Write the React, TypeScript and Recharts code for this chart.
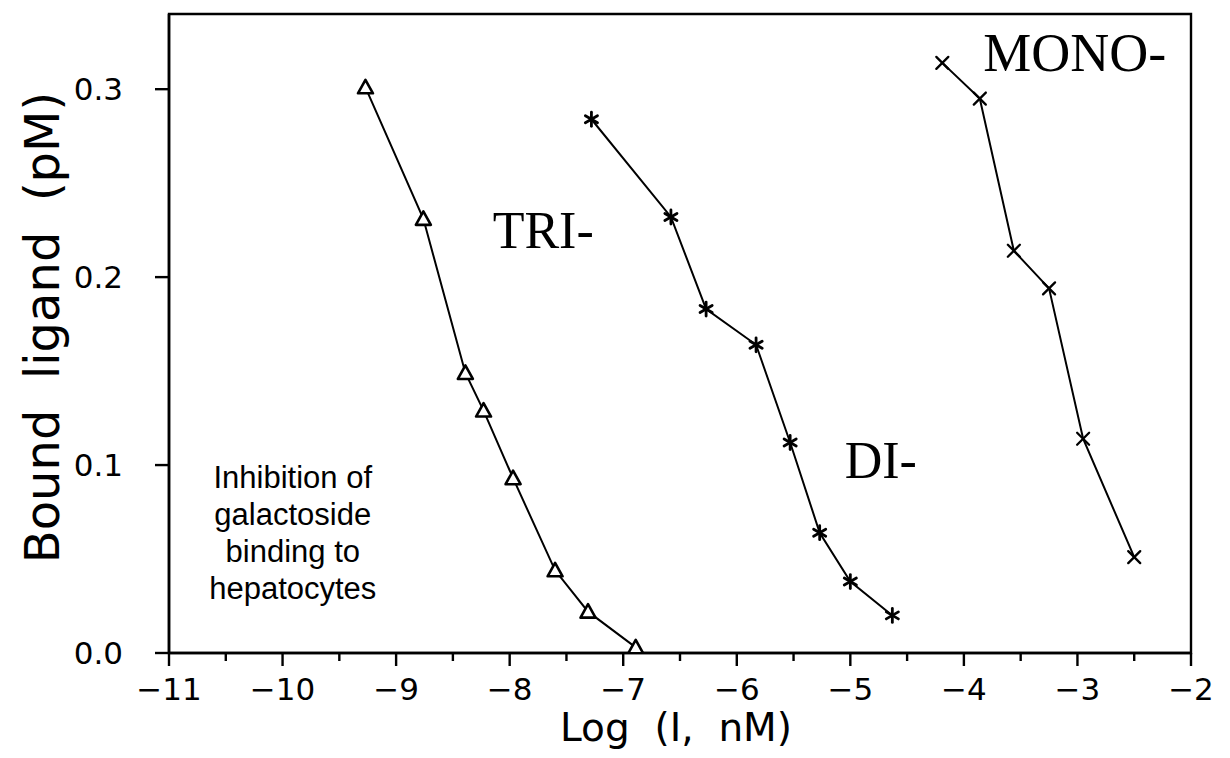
import React from 'react'
import { LineChart, Line, XAxis, YAxis, ReferenceArea, ReferenceDot } from 'recharts'

// log concentration of inhibitor vs bound ligand
const triLogI = [-9.27, -8.76, -8.39, -8.23, -7.97, -7.6, -7.31, -6.89]
const triBound = [0.301, 0.231, 0.149, 0.129, 0.093, 0.044, 0.022, 0.003]

const diLogI = [-7.28, -6.58, -6.27, -5.83, -5.53, -5.27, -5.0, -4.63]
const diBound = [0.284, 0.232, 0.183, 0.164, 0.112, 0.064, 0.038, 0.02]

const monoLogI = [-4.19, -3.86, -3.56, -3.25, -2.95, -2.5]
const monoBound = [0.314, 0.295, 0.214, 0.194, 0.114, 0.051]

const xMajorTicks = [-11, -10, -9, -8, -7, -6, -5, -4, -3, -2]
const xMinorTicks = [-10.5, -9.5, -8.5, -7.5, -6.5, -5.5, -4.5, -3.5, -2.5]
const yTicks = [0, 0.1, 0.2, 0.3]

const toRows = (xs: number[], ys: number[]) => xs.map((x, i) => ({ x, y: ys[i] }))

const triData = toRows(triLogI, triBound)
const diData = toRows(diLogI, diBound)
const monoData = toRows(monoLogI, monoBound)

const INK = '#000'
const AXIS_FONT = '"DejaVu Sans", sans-serif'
const SERIF = '"Liberation Serif", "DejaVu Serif", serif'

const TriangleDot = ({ cx, cy }: any) => {
  if (cx == null || cy == null) return null
  const s = 7.5
  return (
    <path
      d={`M${cx},${cy - s} L${cx + s},${cy + s * 0.8} L${cx - s},${cy + s * 0.8} Z`}
      fill="#fff"
      stroke={INK}
      strokeWidth={2.6}
      strokeLinejoin="round"
    />
  )
}

const StarDot = ({ cx, cy }: any) => {
  if (cx == null || cy == null) return null
  const r = 7
  const dx = r * Math.cos(Math.PI / 6)
  const dy = r * Math.sin(Math.PI / 6)
  return (
    <g stroke={INK} strokeWidth={2.8} strokeLinecap="round">
      <line x1={cx} y1={cy - r} x2={cx} y2={cy + r} />
      <line x1={cx - dx} y1={cy - dy} x2={cx + dx} y2={cy + dy} />
      <line x1={cx - dx} y1={cy + dy} x2={cx + dx} y2={cy - dy} />
    </g>
  )
}

const CrossDot = ({ cx, cy }: any) => {
  if (cx == null || cy == null) return null
  const r = 6
  return (
    <g stroke={INK} strokeWidth={2.3} strokeLinecap="round">
      <line x1={cx - r} y1={cy - r} x2={cx + r} y2={cy + r} />
      <line x1={cx - r} y1={cy + r} x2={cx + r} y2={cy - r} />
    </g>
  )
}

const XTick = ({ x, y, payload }: any) => {
  const major = Number.isInteger(payload.value)
  return (
    <g>
      <line x1={x} y1={y} x2={x} y2={y + (major ? 13 : 8)} stroke={INK} strokeWidth={2.4} />
      {major && (
        <text x={x} y={y + 47} textAnchor="middle" fontFamily={AXIS_FONT} fontSize={31} fill={INK}>
          {'\u2212' + Math.abs(payload.value)}
        </text>
      )}
    </g>
  )
}

const XLabel = ({ viewBox }: any) => {
  const { x, y, width } = viewBox
  return (
    <text
      x={x + width / 2 - 4}
      y={y + 88}
      textAnchor="middle"
      fontFamily={AXIS_FONT}
      fontSize={39}
      fill={INK}
      style={{ whiteSpace: 'pre' }}
    >
      {'Log  (I,  nM)'}
    </text>
  )
}

const YLabel = ({ viewBox }: any) => {
  const { y, height } = viewBox
  const cx = 42
  const cy = y + height / 2 - 6
  return (
    <text
      x={cx}
      y={cy}
      transform={`rotate(-90, ${cx}, ${cy})`}
      textAnchor="middle"
      dominantBaseline="central"
      fontFamily={AXIS_FONT}
      fontSize={48}
      fill={INK}
      style={{ whiteSpace: 'pre' }}
    >
      {'Bound  ligand  (pM)'}
    </text>
  )
}

const seriesLabel = (text: string, size: number) => ({ cx, cy }: any) => (
  <text x={cx} y={cy} fontFamily={SERIF} fontSize={size} fill={INK}>
    {text}
  </text>
)

const noteLines = ['Inhibition of', 'galactoside', 'binding to', 'hepatocytes']

const NoteText = ({ cx, cy }: any) => (
  <text x={cx} y={cy} textAnchor="middle" fontFamily='"Liberation Sans", Arial, sans-serif' fontSize={31} fill={INK}>
    {noteLines.map((line, i) => (
      <tspan key={line} x={cx} dy={i === 0 ? 0 : 37}>
        {line}
      </tspan>
    ))}
  </text>
)

export default function App() {
  return (
    <div style={{ position: 'absolute', left: 0, top: 0, width: 1230, height: 758, background: '#fff' }}>
      <LineChart width={1230} height={758} margin={{ top: 14, right: 39, bottom: 0, left: 0 }}>
        <XAxis
          dataKey="x"
          type="number"
          domain={[-11, -2]}
          ticks={[...xMajorTicks, ...xMinorTicks].sort((a, b) => a - b)}
          interval={0}
          height={105}
          axisLine={{ stroke: INK, strokeWidth: 2.6 }}
          tickLine={false}
          tickSize={0}
          tickMargin={0}
          tick={<XTick />}
          label={<XLabel />}
          allowDataOverflow
        />
        <YAxis
          dataKey="y"
          type="number"
          domain={[0, 0.34]}
          ticks={yTicks}
          interval={0}
          width={169}
          axisLine={{ stroke: INK, strokeWidth: 2.6 }}
          tickLine={{ stroke: INK, strokeWidth: 2.4 }}
          tickSize={14}
          tickMargin={32}
          tickFormatter={(v: number) => v.toFixed(1)}
          tick={{ fill: INK, fontFamily: AXIS_FONT, fontSize: 31 }}
          label={<YLabel />}
          allowDataOverflow
        />
        <ReferenceArea x1={-11} x2={-2} y1={0} y2={0.34} fill="none" stroke={INK} strokeWidth={2.4} />

        <Line data={triData} dataKey="y" stroke={INK} strokeWidth={2} dot={<TriangleDot />} isAnimationActive={false} />
        <Line data={diData} dataKey="y" stroke={INK} strokeWidth={2} dot={<StarDot />} isAnimationActive={false} />
        <Line data={monoData} dataKey="y" stroke={INK} strokeWidth={2} dot={<CrossDot />} isAnimationActive={false} />

        <ReferenceDot x={-8.15} y={0.2154} r={0} shape={seriesLabel('TRI-', 52)} />
        <ReferenceDot x={-5.05} y={0.093} r={0} shape={seriesLabel('DI-', 52)} />
        <ReferenceDot x={-3.83} y={0.3096} r={0} shape={seriesLabel('MONO-', 54)} />
        <ReferenceDot x={-9.91} y={0.0878} r={0} shape={NoteText} />
      </LineChart>
    </div>
  )
}
